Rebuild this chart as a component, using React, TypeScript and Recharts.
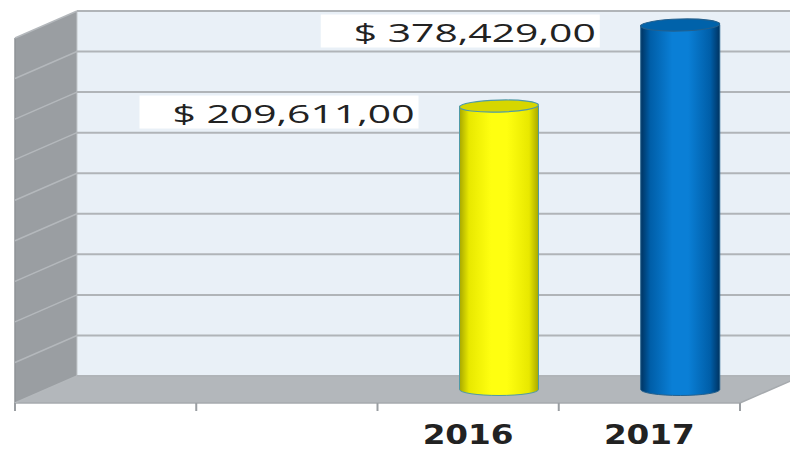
import React from "react";
import { BarChart, Bar, XAxis, YAxis, ReferenceArea, ReferenceLine } from "recharts";

const CATEGORIES = ["", "", "2016", "2017"];
const VALUES: (number | null)[] = [null, null, 209611, 378429];
const VALUE_LABELS = ["", "", "$ 209,611,00", "$ 378,429,00"];
const Y_MIN = -381000;
const Y_MAX = 379500;
const GRID_COUNT = 10;
const GRID_VALUES = Array.from({ length: GRID_COUNT }, (_, i) => Y_MIN + ((Y_MAX - Y_MIN) * i) / (GRID_COUNT - 1));

const data = CATEGORIES.map((c, i) => ({
  idx: i,
  category: c,
  value: VALUES[i],
  range: VALUES[i] == null ? null : [Y_MIN, VALUES[i] as number],
}));

const W = 790;
const H = 450;
const MARGIN = { top: 38, right: 50, bottom: 0, left: 15 };
const X_AXIS_H = 47;
const AXIS_Y = H - MARGIN.bottom - X_AXIS_H;
const PLOT_W = W - MARGIN.left - MARGIN.right;
const BAND = PLOT_W / CATEGORIES.length;
const DX = 62;
const DY = -27;

const STYLES: ({ dark: string; mid: string; light: string; top: string; stroke: string } | null)[] = [
  null,
  null,
  { dark: "#a8a800", mid: "#e8e800", light: "#ffff10", top: "#d6d600", stroke: "#4f9aa6" },
  { dark: "#003462", mid: "#005ea8", light: "#0a7fd6", top: "#0062aa", stroke: "#23608e" },
];

function getIdx(props: any): number {
  if (props.payload && typeof props.payload.idx === "number") return props.payload.idx;
  if (typeof props.index === "number") return props.index;
  return -1;
}

function Walls(props: any) {
  const { x, y, width, height } = props;
  if (x == null) return null;
  const b = y + height;
  return (
    <g>
      <polygon points={`${x},${y} ${x + DX},${y + DY} ${x + DX},${b + DY} ${x},${b}`} fill="#9a9ea2" />
      <rect x={x + DX} y={y + DY} width={width} height={height} fill="#e9f0f7" />
      <polygon
        points={`${x},${b} ${x + DX},${b + DY} ${x + width + DX},${b + DY} ${x + width},${b}`}
        fill="#b3b7bb"
      />
      <line x1={x} y1={y} x2={x} y2={b} stroke="#8e9296" strokeWidth={1.5} />
      <line x1={x + DX} y1={y + DY} x2={x + DX} y2={b + DY} stroke="#c4c8cc" strokeWidth={1} />
      <polyline
        points={`${x},${b} ${x + width},${b} ${x + width + DX},${b + DY}`}
        fill="none"
        stroke="#a6aaae"
        strokeWidth={1.5}
      />
    </g>
  );
}

function GridLine(props: any) {
  const { x1, y1, x2 } = props;
  if (x1 == null || y1 == null) return null;
  return (
    <g>
      <line x1={x1} y1={y1} x2={x1 + DX} y2={y1 + DY} stroke="#b4b8bc" strokeWidth={1.5} />
      <line x1={x1 + DX} y1={y1 + DY} x2={x2 + DX} y2={y1 + DY} stroke="#b0b4b8" strokeWidth={2} />
    </g>
  );
}

function ValueLabel({ barLeft, barTop, text }: { barLeft: number; barTop: number; text: string }) {
  const boxRight = barLeft - 41;
  const boxW = 279;
  const boxH = 33;
  const cy = barTop + 6;
  return (
    <g>
      <rect x={boxRight - boxW} y={cy - boxH / 2} width={boxW} height={boxH} fill="#ffffff" />
      <text
        x={boxRight - 4}
        y={cy + 11}
        textAnchor="end"
        fontFamily="'Open Sans', 'Noto Sans', sans-serif"
        fontSize={26}
        fill="#222222"
        textLength={242}
        lengthAdjust="spacingAndGlyphs"
      >
        {text}
      </text>
    </g>
  );
}

function Cylinder(props: any) {
  const { x, y, width, height } = props;
  const index = getIdx(props);
  const s = STYLES[index];
  if (!s || x == null || y == null || !isFinite(height)) return <g />;
  const left = x + DX / 2;
  const right = left + width;
  const cx = left + width / 2;
  const top = y + DY / 2;
  const bottom = y + height + DY / 2;
  const rx = width / 2;
  const ry = 6;
  const gid = `cyl-grad-${index}`;
  const text = VALUE_LABELS[index];
  return (
    <g>
      <defs>
        <linearGradient id={gid} x1="0" y1="0" x2="1" y2="0">
          <stop offset="0%" stopColor={s.dark} />
          <stop offset="12%" stopColor={s.mid} />
          <stop offset="40%" stopColor={s.light} />
          <stop offset="60%" stopColor={s.light} />
          <stop offset="88%" stopColor={s.mid} />
          <stop offset="100%" stopColor={s.dark} />
        </linearGradient>
      </defs>
      <path
        d={`M${left},${top} L${left},${bottom} A${rx},${ry} 0 0 0 ${right},${bottom} L${right},${top} Z`}
        fill={`url(#${gid})`}
        stroke={s.stroke}
        strokeWidth={1}
      />
      <ellipse
        cx={cx}
        cy={top}
        rx={rx}
        ry={ry}
        fill={s.top}
        stroke={s.stroke}
        strokeWidth={1.2}
        transform={`rotate(-1.5 ${cx} ${top})`}
      />
      {text ? <ValueLabel barLeft={left} barTop={top} text={text} /> : null}
    </g>
  );
}

function CategoryTick(props: any) {
  const { x, payload, index } = props;
  if (x == null) return null;
  const label = payload?.value ?? "";
  const last = index === CATEGORIES.length - 1;
  return (
    <g>
      <line x1={x - BAND / 2} y1={AXIS_Y} x2={x - BAND / 2} y2={AXIS_Y + 8} stroke="#9a9ea2" strokeWidth={2} />
      {last && (
        <line x1={x + BAND / 2} y1={AXIS_Y} x2={x + BAND / 2} y2={AXIS_Y + 8} stroke="#9a9ea2" strokeWidth={2} />
      )}
      {label && (
        <text
          x={x}
          y={AXIS_Y + 41}
          textAnchor="middle"
          fontFamily="'DejaVu Sans', sans-serif"
          fontWeight="bold"
          fontSize={26}
          fill="#222222"
          textLength={91}
          lengthAdjust="spacingAndGlyphs"
        >
          {label}
        </text>
      )}
    </g>
  );
}

export default function App() {
  return (
    <div style={{ position: "absolute", left: 0, top: 0, width: W, height: H, background: "#ffffff" }}>
      <BarChart width={W} height={H} data={data} margin={MARGIN} barSize={79}>
        <ReferenceArea y1={Y_MIN} y2={Y_MAX} shape={<Walls />} ifOverflow="visible" zIndex={-300} />
        {GRID_VALUES.map((v) => (
          <ReferenceLine key={v} y={v} shape={<GridLine />} ifOverflow="visible" zIndex={-250} />
        ))}
        <XAxis
          dataKey="category"
          height={X_AXIS_H}
          axisLine={false}
          tickLine={false}
          tickSize={0}
          tickMargin={0}
          interval={0}
          tick={<CategoryTick />}
        />
        <YAxis hide domain={[Y_MIN, Y_MAX]} type="number" />
        <Bar dataKey="range" shape={<Cylinder />} isAnimationActive={false} />
      </BarChart>
    </div>
  );
}
